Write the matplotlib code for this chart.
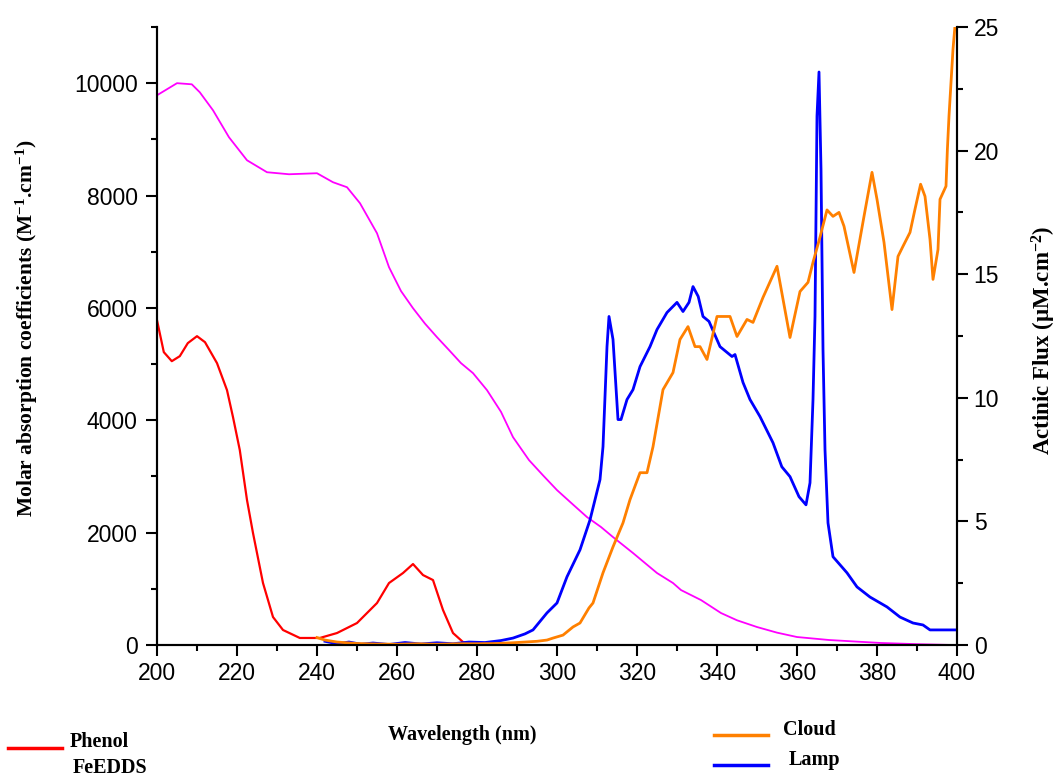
import matplotlib
matplotlib.use('Agg')
import matplotlib.pyplot as plt
from matplotlib.lines import Line2D
from matplotlib.ticker import MultipleLocator

# FeEDDS molar absorption (left axis)
fe_wl = [200, 205, 208.7, 210.7, 214, 218, 222.5, 227.5, 233, 240, 244, 247.5, 250.75, 255, 258,
         261, 264, 267, 270, 273, 276, 279, 282.5, 286, 289, 293, 296.5, 300, 304, 307.5, 311,
         314, 319, 325, 329, 331, 336, 341, 345, 350, 355, 360, 368, 375, 381, 390, 399]
fe_val = [9785, 10000, 9980, 9838, 9518, 9037, 8628, 8415, 8379, 8397, 8237, 8148, 7863, 7329, 6725,
          6300, 5995, 5720, 5479, 5250, 5017, 4839, 4536, 4150, 3700, 3291, 3020, 2757, 2500, 2277, 2100,
          1921, 1637, 1281, 1103, 978, 800, 569, 440, 320, 220, 142, 89, 60, 36, 15, 0]

# Phenol molar absorption (left axis)
ph_wl = [200, 201.7, 203.7, 205.7, 207.7, 210, 212, 215, 217.5, 219, 220.7, 222.5, 224, 226.5, 229,
         231.5, 235.7, 240.7, 245, 250, 255, 258, 261.5, 264, 266.5, 269, 271.5, 274, 276.5, 279]
ph_val = [5782, 5213, 5052, 5141, 5373, 5497, 5390, 5017, 4536, 4056, 3469, 2580, 1993, 1103, 498,
          267, 125, 125, 213, 391, 747, 1103, 1281, 1441, 1245, 1156, 623, 213, 53, 0]

# Lamp actinic flux (right axis)
lamp_wl = [242, 245, 248, 251, 254, 258, 262, 266, 270, 274, 278, 282, 286, 289, 292, 294, 297.5,
           300, 302.5, 305.75, 308.25, 310.75, 311.5, 312.5, 313, 314, 315.25, 316, 317.5, 319,
           320.75, 323.25, 325, 327.5, 330, 331.5, 333, 334, 335.3, 336.5, 338, 340.75, 343.75,
           344.5, 346.5, 348.25, 350.75, 354, 356.2, 358.25, 360.5, 362.25, 363.25, 364, 364.5,
           365, 365.5, 366, 366.5, 367, 367.75, 369, 372.5, 375, 378.25, 382.5, 385.75, 389,
           391.5, 393.25, 399, 400]
lamp_val = [0.15, 0.05, 0.12, 0.03, 0.08, 0.02, 0.1, 0.04, 0.09, 0.05, 0.12, 0.1, 0.18, 0.28, 0.45,
            0.61, 1.3, 1.7, 2.76, 3.85, 5.06, 6.69, 8.02, 12.07, 13.29, 12.36, 9.12, 9.12, 9.93,
            10.33, 11.26, 12.07, 12.76, 13.45, 13.86, 13.49, 13.86, 14.5, 14.1, 13.29, 13.09,
            12.07, 11.67, 11.75, 10.62, 9.93, 9.24, 8.18, 7.21, 6.81, 6.0, 5.67, 6.56, 9.93, 13.29,
            21.4, 23.18, 19.25, 11.95, 7.9, 4.94, 3.57, 2.92, 2.35, 1.94, 1.54, 1.13, 0.89,
            0.81, 0.61, 0.61, 0.61]

# Cloud actinic flux (right axis)
cloud_wl = [240, 242, 245, 250, 255, 260, 265, 270, 275, 280, 285, 290, 295, 297.5, 299, 301.5,
            304, 305.75, 308, 309, 311.5, 314, 316.5, 318.25, 320.75, 322.5, 324, 326.5, 329,
            330.75, 332.75, 334.5, 335.75, 337.5, 340, 343.25, 345, 347.5, 349, 351.5, 355,
            358.25, 360.75, 362.75, 364, 365.75, 367.5, 369, 370.5, 371.75, 374.25, 376.75,
            378.75, 380, 381.75, 383.75, 385.25, 386.5, 388.25, 389.5, 390.9, 392, 393.25, 394,
            395.25, 395.75, 397.25, 397.6, 398, 399, 400]
cloud_val = [0.3, 0.2, 0.12, 0.06, 0.04, 0.03, 0.05, 0.03, 0.05, 0.05, 0.06, 0.1, 0.15, 0.2, 0.28,
             0.4, 0.73, 0.89, 1.5, 1.7, 2.92, 3.97, 4.94, 5.88, 6.97, 6.97, 8.02, 10.33, 11.02,
             12.36, 12.88, 12.07, 12.07, 11.55, 13.29, 13.29, 12.48, 13.17, 13.05, 14.06, 15.32,
             12.44, 14.3, 14.67, 15.48, 16.5, 17.6, 17.34, 17.5, 16.94, 15.07, 17.34,
             19.12, 18.03, 16.29, 13.57, 15.72, 16.13, 16.69, 17.63, 18.64, 18.15, 16.41, 14.79,
             16.0, 18.03, 18.56, 20.06, 21.4, 24.1, 26.0]

plt.rcParams['font.family'] = ['Liberation Sans', 'DejaVu Sans']
plt.rcParams['mathtext.fontset'] = 'custom'
plt.rcParams['mathtext.rm'] = 'Liberation Serif:bold'
plt.rcParams['mathtext.it'] = 'Liberation Serif:bold'
plt.rcParams['mathtext.bf'] = 'Liberation Serif:bold'

fig = plt.figure(figsize=(10.59, 7.76), dpi=100)
ax = fig.add_axes([157 / 1059, 1 - 645 / 776, 800 / 1059, 618 / 776])
ax2 = ax.twinx()

ax.plot(fe_wl, fe_val, color='#ff00ff', lw=1.3)
ax.plot(ph_wl, ph_val, color='#ff0000', lw=1.6)
ax2.plot(lamp_wl, lamp_val, color='#0000ff', lw=2.0)
ax2.plot(cloud_wl, cloud_val, color='#ff8000', lw=2.0)

ax.set_xlim(200, 400)
ax.set_ylim(0, 11000)
ax2.set_ylim(0, 25)

ax.xaxis.set_major_locator(MultipleLocator(20))
ax.xaxis.set_minor_locator(MultipleLocator(10))
ax.yaxis.set_major_locator(MultipleLocator(2000))
ax.yaxis.set_minor_locator(MultipleLocator(1000))
ax2.yaxis.set_major_locator(MultipleLocator(5))
ax2.yaxis.set_minor_locator(MultipleLocator(2.5))

for a in (ax, ax2):
    a.spines['top'].set_visible(False)
    for s in ('left', 'right', 'bottom'):
        a.spines[s].set_linewidth(1.5)
    a.tick_params(which='major', direction='out', length=8, width=1.5, labelsize=16.5, pad=4)
    a.tick_params(which='minor', direction='out', length=4.5, width=1.5)
ax.tick_params(axis='y', which='major', pad=6)

serif = ['Liberation Serif', 'DejaVu Serif']
fig.text(462 / 1059, 1 - 735 / 776, 'Wavelength (nm)', family=serif, weight='bold',
         fontsize=14.5, ha='center', va='center')
fig.text(27 / 1059, 1 - 328 / 776, r'Molar absorption coefficients (M$^{\mathrm{-1}}$.cm$^{\mathrm{-1}}$)',
         family=serif, weight='bold', fontsize=15.5, rotation=90, ha='center', va='center')
fig.text(1044 / 1059, 1 - 340 / 776, r'Actinic Flux (µM.cm$^{\mathrm{-2}}$)',
         family=serif, weight='bold', fontsize=16.5, rotation=90, ha='center', va='center')

# legend drawn as free figure items
legend_items = [
    ('Phenol', '#ff0000', 8, 62, 748, 70, 742),
    ('Cloud', '#ff8000', 714, 768, 735, 783, 730),
    ('Lamp', '#0000ff', 714, 768, 765, 789, 760),
]
for label, col, x0, x1, ly, tx, ty in legend_items:
    fig.add_artist(Line2D([x0 / 1059, x1 / 1059], [1 - ly / 776, 1 - ly / 776],
                          color=col, lw=2.5, transform=fig.transFigure))
    fig.text(tx / 1059, 1 - ty / 776, label, family=serif, weight='bold', fontsize=14.5,
             ha='left', va='center')
fig.text(73 / 1059, 1 - 768 / 776, 'FeEDDS', family=serif, weight='bold', fontsize=14.5,
         ha='left', va='center')

fig.savefig('out.png', dpi=100)
